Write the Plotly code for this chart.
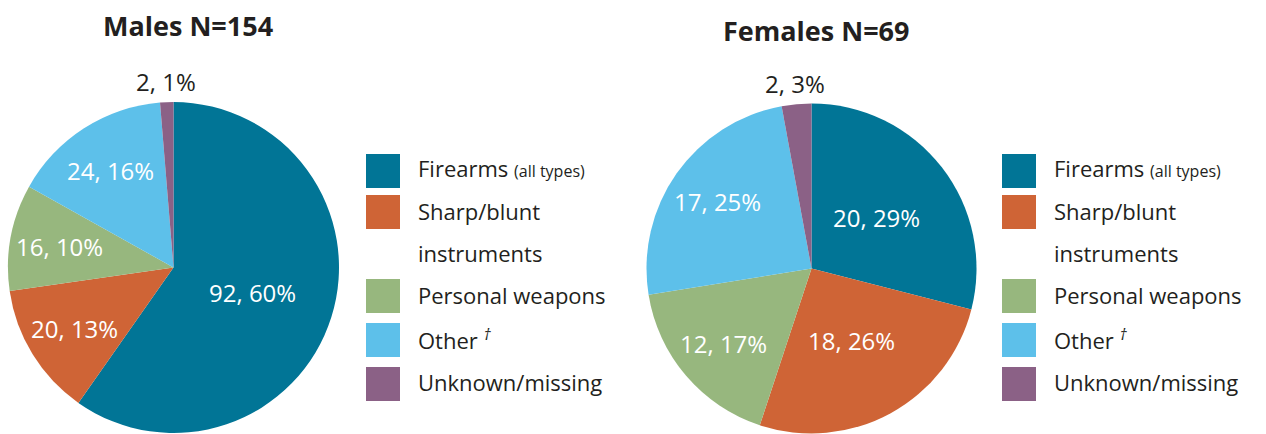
import math
import plotly.graph_objects as go

categories = ["Firearms", "Sharp/blunt instruments", "Personal weapons", "Other", "Unknown/missing"]
legend_labels = ["Firearms <span style='font-size:16px'>(all types)</span>",
                 "Sharp/blunt<br>instruments",
                 "Personal weapons",
                 "Other <sup><i>†</i></sup>",
                 "Unknown/missing"]
males_values = [92, 20, 16, 24, 2]
females_values = [20, 18, 12, 17, 2]
colors = ["#017596", "#CF6436", "#97B77E", "#5DC0EA", "#8B6186"]
titles = ["Males N=154", "Females N=69"]

W, H = 1266, 434
FONT = "'Open Sans', Lato, sans-serif"
TXT = "#231F20"

def px_dom(cx, cy, r):
    return dict(x=[(cx - r) / W, (cx + r) / W], y=[(H - cy - r) / H, (H - cy + r) / H])

fig = go.Figure()
pies = [(males_values, 173.5, 267.5, 165.5), (females_values, 811.5, 268.5, 165)]
for vals, cx, cy, r in pies:
    total = sum(vals)
    fig.add_trace(go.Pie(
        labels=categories, values=vals, sort=False, direction="clockwise", rotation=0,
        marker=dict(colors=colors, line=dict(width=0)),
        textinfo="none",
        domain=px_dom(cx, cy, r), showlegend=False, hoverinfo="label+value+percent",
    ))
    # data labels at each slice's mid-angle
    cum = 0
    for v in vals:
        f = v / total
        mid = (cum + v / 2) / total * 2 * math.pi
        cum += v
        if f < 0.05:
            rho, col = r + 21, TXT          # thin slice: label outside the rim
        elif f <= 0.255:
            rho, col = 0.70 * r, "white"
        else:
            rho, col = 0.50 * r, "white"
        x = cx + rho * math.sin(mid)
        y = cy - rho * math.cos(mid)
        fig.add_annotation(text=f"{v}, {round(100 * f)}%", x=x / W, y=1 - y / H,
                           xref="paper", yref="paper", showarrow=False,
                           xanchor="center", yanchor="middle",
                           font=dict(size=24, color=col, family=FONT))

# titles
for t, (x, y) in zip(titles, [(187.5, 26), (815.5, 31)]):
    fig.add_annotation(text="<b>" + t + "</b>", x=x / W, y=1 - y / H, xref="paper", yref="paper",
                       showarrow=False, xanchor="center", yanchor="middle",
                       font=dict(size=27, color=TXT, family=FONT))

# legends
sq_rows = [171, 212, 296, 340, 384]
txt_rows = [168, 211, 295, 339, 382]
line_gap = 42
for x0 in [366, 1002]:
    for i, c in enumerate(colors):
        yc = sq_rows[i]
        fig.add_shape(type="rect", xref="paper", yref="paper",
                      x0=x0 / W, x1=(x0 + 34) / W, y0=1 - (yc + 17) / H, y1=1 - (yc - 17) / H,
                      fillcolor=c, line=dict(width=0))
        for k, line in enumerate(legend_labels[i].split("<br>")):
            fig.add_annotation(text=line, x=(x0 + 50) / W, y=1 - (txt_rows[i] + k * line_gap) / H,
                               xref="paper", yref="paper", showarrow=False, xanchor="left",
                               yanchor="middle", align="left",
                               font=dict(size=22, color=TXT, family=FONT))

fig.update_layout(width=W, height=H, margin=dict(l=0, r=0, t=0, b=0),
                  paper_bgcolor="white", plot_bgcolor="white",
                  font=dict(family=FONT, color=TXT))
fig.write_html("out.html", config={"displayModeBar": False},
               post_script="document.body.style.margin='0';document.body.style.overflow='hidden';")
